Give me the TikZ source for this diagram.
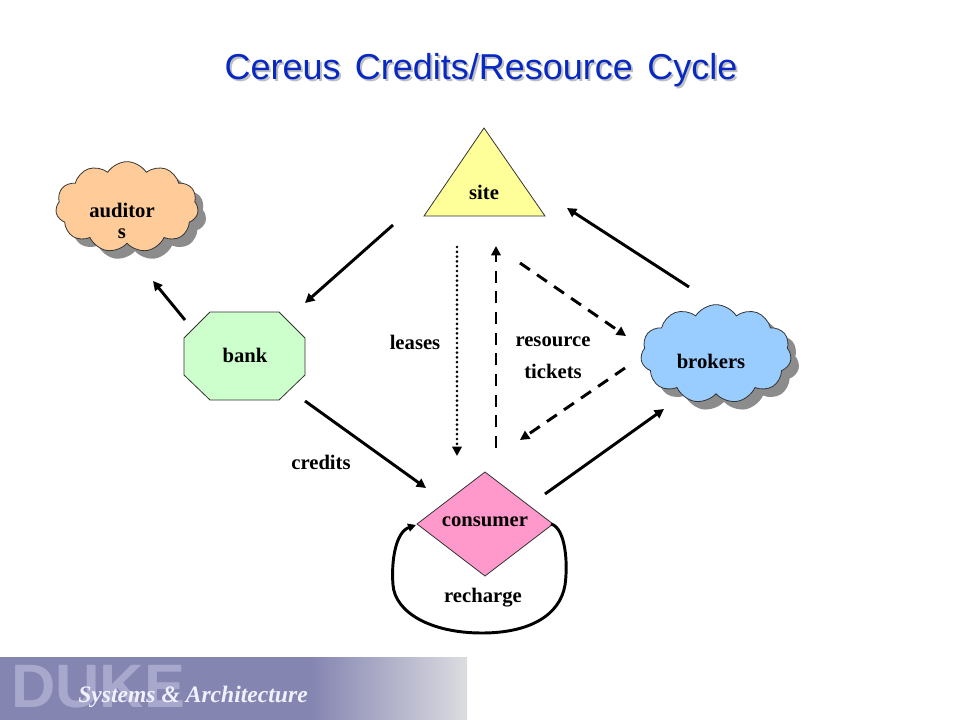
\documentclass[tikz,border=0pt]{standalone}
\usepackage{fontspec}
\setmainfont{Liberation Serif}
\newfontfamily\titlefont{Liberation Sans}
\usetikzlibrary{arrows.meta,shapes.symbols,shadows}
\definecolor{titleblue}{RGB}{8,40,195}
\definecolor{cloudorange}{RGB}{255,204,153}
\definecolor{cloudblue}{RGB}{153,204,255}
\definecolor{bankgreen}{RGB}{204,255,204}
\definecolor{sitey}{RGB}{255,255,153}
\definecolor{conspink}{RGB}{255,153,204}
\definecolor{bandpurple}{RGB}{133,133,178}
\definecolor{bandgrey}{RGB}{220,220,224}
\definecolor{dukelav}{RGB}{168,168,205}
\tikzset{
  lbl/.style={font=\fontsize{15.5}{17}\selectfont\bfseries, inner sep=0pt},
  shapeline/.style={draw=black!80, line width=0.6pt},
  cloudnode/.style={cloud, cloud puffs=11, cloud puff arc=115, cloud ignores aspect,
     shapeline, inner sep=0pt, align=center,
     drop shadow={shadow xshift=6pt, shadow yshift=-6pt, fill=black!45, opacity=1}},
  solidarrow/.style={line width=2.2pt, -{Triangle[length=7pt,width=7pt]}},
  dasharrow/.style={solidarrow, dash pattern=on 9pt off 6.5pt},
  dotarrow/.style={line width=2.2pt, dash pattern=on 0pt off 3.6pt, line cap=round,
     -{Triangle[length=7pt,width=7pt]}},
  loopline/.style={line width=2.2pt, -{Triangle[length=6pt,width=6pt]}}
}
\begin{document}
\begin{tikzpicture}[x=0.75pt,y=-0.75pt]
\useasboundingbox (0,0) rectangle (960,720);
% title
\node[text=black!25, font=\titlefont\fontsize{27}{30}\selectfont] at (483,72)
  {Cereus\hspace{0.4em}Credits/Resource\hspace{0.4em}Cycle};
\node[text=titleblue, font=\titlefont\fontsize{27}{30}\selectfont] (title) at (481,70)
  {Cereus\hspace{0.4em}Credits/Resource\hspace{0.4em}Cycle};
% footer band
\fill[bandpurple] (0,657) rectangle (312,720);
\shade[left color=bandpurple, right color=bandgrey] (311,657) rectangle (467,720);
\node[anchor=base west, inner sep=0pt, text=dukelav,
  font=\titlefont\bfseries\fontsize{46}{50}\selectfont] (duke) at (11,707) {DUKE};
\node[anchor=base west, inner sep=0pt, text=white!94!blue,
  font=\fontsize{17.7}{20}\selectfont\bfseries\itshape] (sysarch) at (78,702) {Systems \& Architecture};
% site triangle
\filldraw[shapeline, fill=sitey] (484,128) -- (545,216) -- (424,216) -- cycle;
\node[lbl] (site) at (484,192) {site};
% auditors cloud
\node[cloudnode, fill=cloudorange, minimum width=107pt, minimum height=68pt] (auditors) at (127,207) {};
\node[lbl, align=center] (audtext) at (122,221) {auditor\\[-1pt]s};
% brokers cloud
\node[cloudnode, fill=cloudblue, minimum width=113pt, minimum height=74pt] (brokers) at (716,354) {};
\node[lbl] (brotext) at (711,361) {brokers};
% bank octagon
\filldraw[shapeline, fill=bankgreen] (210,312) -- (279,312) -- (305,338) -- (305,375) -- (279,400)
  -- (210,400) -- (184,375) -- (184,338) -- cycle;
\node[lbl] (bank) at (245,355) {bank};
% consumer diamond
\filldraw[shapeline, fill=conspink] (485,472) -- (553,524) -- (485,576) -- (417,524) -- cycle;
\node[lbl] (consumer) at (485,522) {consumer};
% labels
\node[lbl] (leases) at (415,342) {leases};
\node[lbl] (resource) at (553,342) {resource};
\node[lbl] (tickets) at (553,371) {tickets};
\node[lbl] (credits) at (321,462) {credits};
\node[lbl] (recharge) at (483,598) {recharge};
% connector endpoints
\coordinate (sbA) at (393,225); \coordinate (sbB) at (305,303);
\coordinate (baA) at (185,320); \coordinate (baB) at (153,281);
\coordinate (bcA) at (305,401); \coordinate (bcB) at (426,488);
\coordinate (cbA) at (545,494); \coordinate (cbB) at (664,409);
\coordinate (bsA) at (689,287); \coordinate (bsB) at (567,208);
\coordinate (leA) at (457,247); \coordinate (leB) at (457,456);
\coordinate (rtA) at (496,448); \coordinate (rtB) at (496,246);
\coordinate (tbA) at (520,263); \coordinate (tbB) at (626,336);
\coordinate (btA) at (625,368); \coordinate (btB) at (520,440);
\coordinate (rcA) at (551,524); \coordinate (rcB) at (416,525);
% connectors
\draw[solidarrow] (sbA) -- (sbB);
\draw[solidarrow] (baA) -- (baB);
\draw[solidarrow] (bcA) -- (bcB);
\draw[solidarrow] (cbA) -- (cbB);
\draw[solidarrow] (bsA) -- (bsB);
\draw[dotarrow] (leA) -- (leB);
\draw[dasharrow] (rtA) -- (rtB);
\draw[dasharrow] (tbA) -- (tbB);
\draw[dasharrow] (btA) -- (btB);
\draw[loopline] (rcA) .. controls (566,528) and (568,565) .. (565,585)
  .. controls (560,615) and (530,633) .. (482,633)
  .. controls (430,633) and (395,612) .. (393,585)
  .. controls (391,560) and (396,532) .. (rcB);
\end{tikzpicture}
\end{document}
